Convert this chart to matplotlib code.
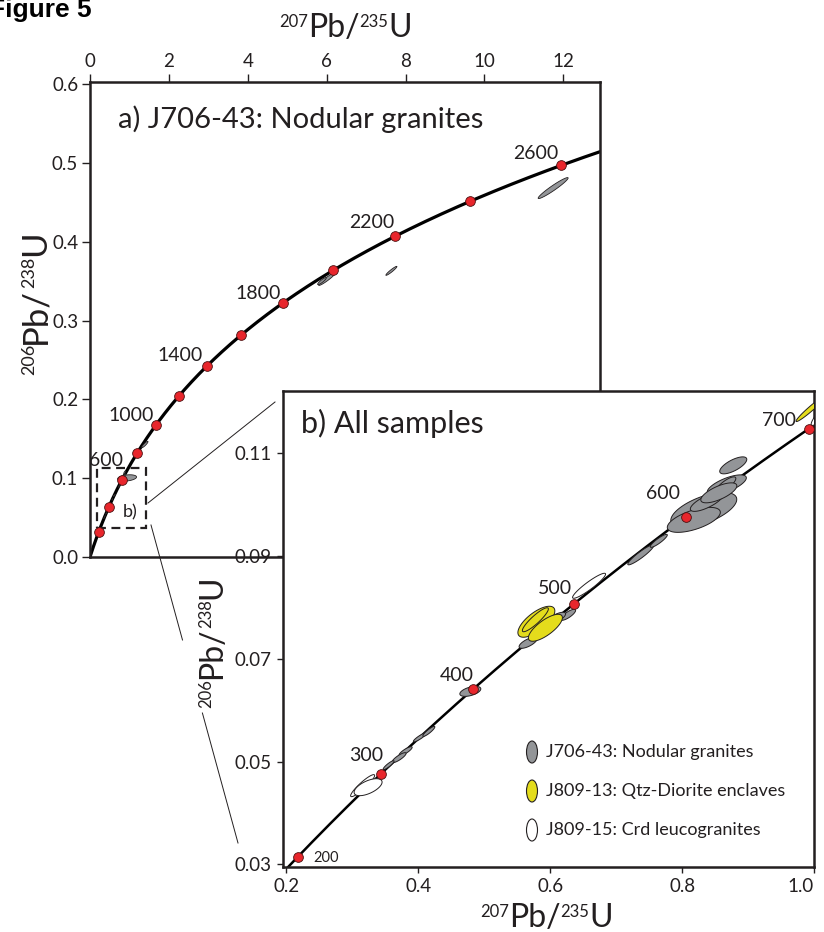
import numpy as np
import matplotlib
matplotlib.use('Agg')
import matplotlib.pyplot as plt
from matplotlib.patches import Polygon, Ellipse, Rectangle
from matplotlib.lines import Line2D

W, H = 824, 932
FONT = 'Lato'
TXT = '#231f20'
plt.rcParams['font.family'] = [FONT, 'DejaVu Sans']

# ---------------- data ----------------
LAMBDA_238 = 1.55125e-4   # 1/Ma
LAMBDA_235 = 9.8485e-4    # 1/Ma

main_ages = [200, 400, 600, 800, 1000, 1200, 1400, 1600, 1800, 2000, 2200, 2400, 2600]
main_label_ages = [600, 1000, 1400, 1800, 2200, 2600]
inset_ages = [200, 300, 400, 500, 600, 700]
inset_label_ages = [200, 300, 400, 500, 600, 700]

main_xticks = [0, 2, 4, 6, 8, 10, 12]
main_yticks = [0.0, 0.1, 0.2, 0.3, 0.4, 0.5, 0.6]
inset_xticks = [0.2, 0.4, 0.6, 0.8, 1.0]
inset_yticks = [0.03, 0.05, 0.07, 0.09, 0.11]

# J706-43 nodular granites (207Pb/235U, 206Pb/238U, half-extent x, half-extent y, rho)
j706_x = [0.8776, 0.8329, 0.8178, 0.8375, 0.8678, 0.8663, 0.8557, 0.7374, 0.7647,
          0.6272, 0.6075, 0.5665, 0.4790, 0.4025, 0.4161, 0.3809, 0.3710, 0.3551]
j706_y = [0.10755, 0.09890, 0.09696, 0.10046, 0.10376, 0.10376, 0.10221, 0.09016, 0.09288,
          0.07851, 0.07774, 0.07307, 0.06363, 0.05469, 0.05585, 0.05201, 0.05075, 0.04929]
j706_sx = [0.0205, 0.0500, 0.0402, 0.0250, 0.0296, 0.0152, 0.0273, 0.0197, 0.0129,
           0.0114, 0.0159, 0.0136, 0.0159, 0.0099, 0.0091, 0.0099, 0.0106, 0.0083]
j706_sy = [0.00165, 0.00340, 0.00243, 0.00185, 0.00194, 0.00155, 0.00194, 0.00194, 0.00126,
           0.00107, 0.00126, 0.00107, 0.00097, 0.00087, 0.00097, 0.00087, 0.00097, 0.00087]
j706_rho = [0.70, 0.60, 0.60, 0.75, 0.70, 0.80, 0.70, 0.93, 0.90,
            0.80, 0.75, 0.70, 0.50, 0.90, 0.90, 0.85, 0.85, 0.90]

# older / discordant J706-43 analyses visible only in panel a
j706_old_x = [11.74, 7.64, 6.01, 5.88, 1.39, 0.94]
j706_old_y = [0.468, 0.363, 0.3527, 0.350, 0.1427, 0.1003]
j706_old_sx = [0.38, 0.14, 0.215, 0.11, 0.08, 0.24]
j706_old_sy = [0.0133, 0.0057, 0.0082, 0.0045, 0.0040, 0.0040]
j706_old_rho = [0.96, 0.95, 0.95, 0.90, 0.90, 0.30]

# J809-13 Qtz-diorite enclaves
j813_x = [0.5791, 0.5928, 0.5776, 0.9955]
j813_y = [0.07716, 0.07599, 0.07755, 0.11859]
j813_sx = [0.0280, 0.0258, 0.0197, 0.0227]
j813_sy = [0.00301, 0.00262, 0.00233, 0.00253]
j813_rho = [0.70, 0.75, 0.90, 0.97]

# J809-15 Crd leucogranites
j815_x = [0.6590, 0.3157, 0.3240, 1.0137]
j815_y = [0.08415, 0.04531, 0.04501, 0.11781]
j815_sx = [0.0250, 0.0182, 0.0212, 0.0180]
j815_sy = [0.00243, 0.00214, 0.00165, 0.00250]
j815_rho = [0.93, 0.92, 0.60, 0.90]

legend_labels = ['J706-43: Nodular granites', 'J809-13: Qtz-Diorite enclaves', 'J809-15: Crd leucogranites']

GRAY = '#939598'
YELLOW = '#e4dc1c'
WHITE = '#ffffff'
RED = '#e8262c'


def conc(t):
    t = np.asarray(t, dtype=float)
    return np.exp(LAMBDA_235 * t) - 1, np.exp(LAMBDA_238 * t) - 1


def ellipse_xy(x, y, sx, sy, rho, n=120):
    th = np.linspace(0, 2 * np.pi, n)
    ex = x + sx * np.cos(th)
    ey = y + sy * (rho * np.cos(th) + np.sqrt(1 - rho ** 2) * np.sin(th))
    return np.column_stack([ex, ey])


def draw_ellipses(ax, xs, ys, sxs, sys_, rhos, color, z=3, lw=0.7):
    for x, y, sx, sy, r in zip(xs, ys, sxs, sys_, rhos):
        ax.add_patch(Polygon(ellipse_xy(x, y, sx, sy, r), closed=True, facecolor=color,
                             edgecolor=TXT, lw=lw, zorder=z))


def fx(x):
    return x / W


def fy(y):
    return 1 - y / H


fig = plt.figure(figsize=(W / 100, H / 100), dpi=100)


def rich(x, y, pieces, rotation=0):
    r = fig.canvas.get_renderer()
    ws = []
    for s, fs, rise in pieces:
        t = fig.text(0, 0, s, fontsize=fs)
        ws.append(t.get_window_extent(r).width)
        t.remove()
    cur = 0
    for (s, fs, rise), w in zip(pieces, ws):
        if rotation == 0:
            px, py = x + cur, y - rise
        else:
            px, py = x - rise, y - cur
        fig.text(fx(px), fy(py), s, fontsize=fs, rotation=rotation, rotation_mode='anchor',
                 ha='left', va='baseline', color=TXT)
        cur += w


TICK_FS = 13.5

# ---------------- main panel ----------------
L, R, T, B = 90, 600, 82, 557
ax = fig.add_axes([fx(L), fy(B), (R - L) / W, (B - T) / H])
ax.set_xlim(0, (R - L) / 39.45)
ax.set_ylim(0, (B - T) / 788.3)
for s in ax.spines.values():
    s.set_linewidth(1.8)
    s.set_color(TXT)
ax.xaxis.tick_top()
ax.set_xticks(main_xticks)
ax.set_xticklabels([str(v) for v in main_xticks])
ax.set_yticks(main_yticks)
ax.set_yticklabels(['%.1f' % v for v in main_yticks])
ax.tick_params(direction='out', length=5.5, width=1, color=TXT, labelcolor=TXT, labelsize=TICK_FS, pad=3)

tt = np.linspace(0, 3200, 600)
cx, cy = conc(tt)
ax.plot(cx, cy, color='black', lw=2.3, zorder=2, solid_capstyle='butt')
draw_ellipses(ax, j706_old_x, j706_old_y, j706_old_sx, j706_old_sy, j706_old_rho, GRAY, lw=0.6)
draw_ellipses(ax, j706_x, j706_y, j706_sx, j706_sy, j706_rho, GRAY, lw=0.4)
mx, my = conc(main_ages)
ax.plot(mx, my, 'o', ms=7, mfc=RED, mec='#4a1010', mew=0.6, zorder=5)
main_off = {600: (-16, 20), 1000: (-25, 9), 1400: (-27, 10), 1800: (-25, 10), 2200: (-23, 14), 2600: (-25, 12)}
for a in main_label_ages:
    px_, py_ = conc(a)
    ax.annotate(str(a), (px_, py_), xytext=main_off[a], textcoords='offset pixels',
                ha='center', va='center', fontsize=14, color=TXT, zorder=6)
ax.add_patch(Rectangle((0.177, 0.0368), 1.42 - 0.177, 0.1129 - 0.0368, fill=False,
                       ls=(0, (4, 2.5)), lw=1.6, ec=TXT, zorder=4))
ax.text(1.02, 0.056, 'b)', fontsize=13, color=TXT, ha='center', va='center')
ax.text(28 / 510, 1 - 46 / 475, 'a) J706-43: Nodular granites', transform=ax.transAxes, fontsize=21,
        color=TXT, ha='left', va='baseline')

# ---------------- inset panel ----------------
iL, iR, iT, iB = 283, 814, 391, 867
axi = fig.add_axes([fx(iL), fy(iB), (iR - iL) / W, (iB - iT) / H], zorder=10)
axi.set_facecolor('white')
axi.set_xlim(0.195, 1.0)
axi.set_ylim(0.0295, 0.122)
for s in axi.spines.values():
    s.set_linewidth(1.8)
    s.set_color(TXT)
axi.set_xticks(inset_xticks)
axi.set_xticklabels(['%.1f' % v for v in inset_xticks])
axi.set_yticks(inset_yticks)
axi.set_yticklabels(['%.2f' % v for v in inset_yticks])
axi.tick_params(direction='out', length=4, width=1, color=TXT, labelcolor=TXT, labelsize=TICK_FS, pad=4)
axi.get_xticklabels()[-1].set_horizontalalignment('right')
axi.get_xticklabels()[-1].set_x(1.0)

ti = np.linspace(150, 760, 300)
ix, iy = conc(ti)
axi.plot(ix, iy, color='black', lw=1.8, zorder=2)
draw_ellipses(axi, j706_x, j706_y, j706_sx, j706_sy, j706_rho, GRAY)
draw_ellipses(axi, j813_x, j813_y, j813_sx, j813_sy, j813_rho, YELLOW)
draw_ellipses(axi, j815_x, j815_y, j815_sx, j815_sy, j815_rho, WHITE)
iax, iay = conc(inset_ages)
axi.plot(iax, iay, 'o', ms=7, mfc=RED, mec='#4a1010', mew=0.6, zorder=6, clip_on=False)
inset_off = {200: (28, -1), 300: (-15, 18), 400: (-16, 14), 500: (-19, 15), 600: (-23, 23), 700: (-30, 8)}
for a in inset_label_ages:
    px_, py_ = conc(a)
    axi.annotate(str(a), (px_, py_), xytext=inset_off[a], textcoords='offset pixels',
                 ha='center', va='center', fontsize=10.5 if a == 200 else 14, color=TXT, zorder=7)
axi.text(18 / 531, 1 - 42 / 476, 'b) All samples', transform=axi.transAxes, fontsize=22,
         color=TXT, ha='left', va='baseline')

# legend
leg_y = [752, 791, 830]
for yy, col, lab in zip(leg_y, [GRAY, YELLOW, WHITE], legend_labels):
    axi.add_patch(Ellipse(((532 - iL) / 531, (iB - yy) / 476), 11 / 531, 22 / 476,
                          transform=axi.transAxes, fc=col, ec=TXT, lw=0.8, zorder=8))
    axi.text((546 - iL) / 531, (iB - yy) / 476, lab, transform=axi.transAxes, fontsize=13,
             color=TXT, ha='left', va='center', zorder=8)

# connecting lines
for (x0, y0), (x1, y1) in [((148, 503), (275, 402)), ((151, 525), (182.5, 640)), ((202.4, 713), (238, 843))]:
    fig.add_artist(Line2D([fx(x0), fx(x1)], [fy(y0), fy(y1)], color=TXT, lw=0.7))

# axis labels
big, small = 23, 12
rich(279, 37, [('207', small, 10), ('Pb/', big, 0), ('235', small, 10), ('U', big, 0)])
rich(480, 927, [('207', small, 10), ('Pb/', big, 0), ('235', small, 10), ('U', big, 0)])
rich(45, 375, [('206', 13, 11), ('Pb/', 25, 0), ('238', 13, 11), ('U', 25, 0)], rotation=90)
rich(221, 708, [('206', small, 10), ('Pb/', big, 0), ('238', small, 10), ('U', big, 0)], rotation=90)

fig.text(fx(-11), fy(17), 'Figure 5', fontsize=19, fontweight='bold', family='Liberation Sans',
         color='black', ha='left', va='baseline')

fig.savefig('out.png', dpi=100)
